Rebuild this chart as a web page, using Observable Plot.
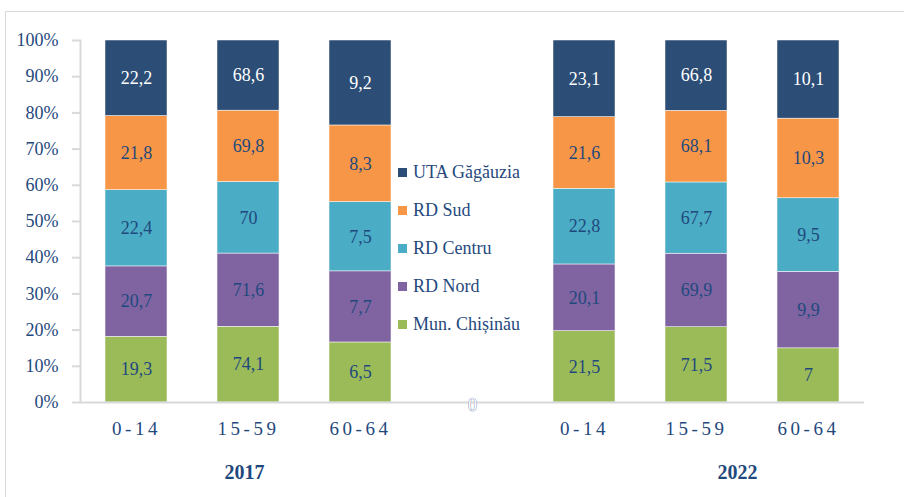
<!DOCTYPE html>
<html><head><meta charset="utf-8">
<script src="https://cdn.jsdelivr.net/npm/d3@7"></script>
<script src="https://cdn.jsdelivr.net/npm/@observablehq/plot@0.6"></script>
</head>
<body style="margin:0;background:#fff">
<div id="wrap" style="position:relative;width:904px;height:497px;overflow:hidden">
<div style="position:absolute;left:5px;top:11px;right:-2px;bottom:-2px;border-left:1.5px solid #d9d9d9;border-top:1.5px solid #d9d9d9"></div>
<div id="chart"></div>
<div id="legend" style="position:absolute;left:398px;top:156px;font-family:serif;font-size:18px;color:#1f497d"></div>
</div>
<script>
const regions = ["Mun. Chișinău", "RD Nord", "RD Centru", "RD Sud", "UTA Găgăuzia"];
const colors = ["#9bbb59", "#8064a2", "#4bacc6", "#f79646", "#2c4d75"];
const ageGroups = ["0-14", "15-59", "60-64"];
const years = ["2017", "2022"];
const v2017_0_14  = [19.3, 20.7, 22.4, 21.8, 22.2];
const v2017_15_59 = [74.1, 71.6, 70, 69.8, 68.6];
const v2017_60_64 = [6.5, 7.7, 7.5, 8.3, 9.2];
const v2022_0_14  = [21.5, 20.1, 22.8, 21.6, 23.1];
const v2022_15_59 = [71.5, 69.9, 67.7, 68.1, 66.8];
const v2022_60_64 = [7, 9.9, 9.5, 10.3, 10.1];
const yTicks = [0,0.1,0.2,0.3,0.4,0.5,0.6,0.7,0.8,0.9,1];

const series = {
  "2017": [v2017_0_14, v2017_15_59, v2017_60_64],
  "2022": [v2022_0_14, v2022_15_59, v2022_60_64]
};
const gapKey = "gap";
const xDomain = [...ageGroups.map(a => a + "|2017"), gapKey, ...ageGroups.map(a => a + "|2022")];
const data = [];
for (const yr of years) ageGroups.forEach((ag, i) => {
  regions.forEach((r, j) => data.push({x: ag + "|" + yr, region: r, value: series[yr][i][j]}));
});
const fmt = v => String(v).replace(".", ",");
const ink = "#1f497d";
const serif = "serif";

const chart = Plot.plot({
  width: 904, height: 497,
  marginLeft: 80, marginRight: 40, marginTop: 40, marginBottom: 95,
  style: {fontFamily: serif, fontSize: "18px", color: ink, background: "transparent", overflow: "visible"},
  x: {domain: xDomain, paddingInner: 0.45, paddingOuter: 0.22, axis: null, label: null},
  y: {domain: [0, 1], axis: null, label: null},
  color: {domain: regions, range: colors},
  marks: [
    Plot.barY(data, Plot.stackY({offset: "normalize", x: "x", y: "value", z: "region", fill: "region", stroke: "white", strokeWidth: 0.5})),
    Plot.text(data, Plot.stackY({offset: "normalize", x: "x", y: "value", z: "region", text: d => fmt(d.value),
      fill: d => d.region === "UTA Găgăuzia" ? "white" : ink, fontSize: 18, fontFamily: serif})),
    Plot.ruleY([0], {stroke: "#d9d9d9", strokeWidth: 2}),
    Plot.frame({anchor: "left", stroke: "#d9d9d9", strokeWidth: 2}),
    Plot.axisY({ticks: yTicks, label: null, tickFormat: d => Math.round(d * 100) + "%", tickSize: 8, tickPadding: 14, stroke: "#d9d9d9", strokeWidth: 2, fill: ink, fontSize: 18, fontFamily: serif}),
    Plot.axisX({ticks: xDomain, label: null, tickSize: 0, tickPadding: 19, tickFormat: d => d === gapKey ? "" : d.split("|")[0], fill: ink, fontSize: 19, fontFamily: serif}),
    Plot.text([gapKey], {x: d => d, y: 0, text: () => "0", fill: "white", stroke: "#4f6fa0", strokeWidth: 0.7, fontSize: 18, dy: 3, fontFamily: serif}),
    Plot.text([years[0]], {x: () => "15-59|2017", y: () => -0.193, text: d => d, dx: -4, fontWeight: "bold", fontSize: 20, fill: ink, fontFamily: serif}),
    Plot.text([years[1]], {x: () => "15-59|2022", y: () => -0.193, text: d => d, dx: 41, fontWeight: "bold", fontSize: 20, fill: ink, fontFamily: serif})
  ]
});
document.getElementById("chart").appendChild(chart);
d3.select(chart).selectAll('g[aria-label="x-axis tick label"] text').style("letter-spacing", "3.5px");

const leg = d3.select("#legend");
for (let i = regions.length - 1; i >= 0; i--) {
  const row = leg.append("div").style("height", "38px").style("line-height", "32px").style("white-space", "nowrap");
  row.append("span").style("display", "inline-block").style("width", "9px").style("height", "9px")
    .style("margin-right", "6px").style("vertical-align", "1px").style("background", colors[i]);
  row.append("span").text(regions[i]);
}
</script></body></html>
